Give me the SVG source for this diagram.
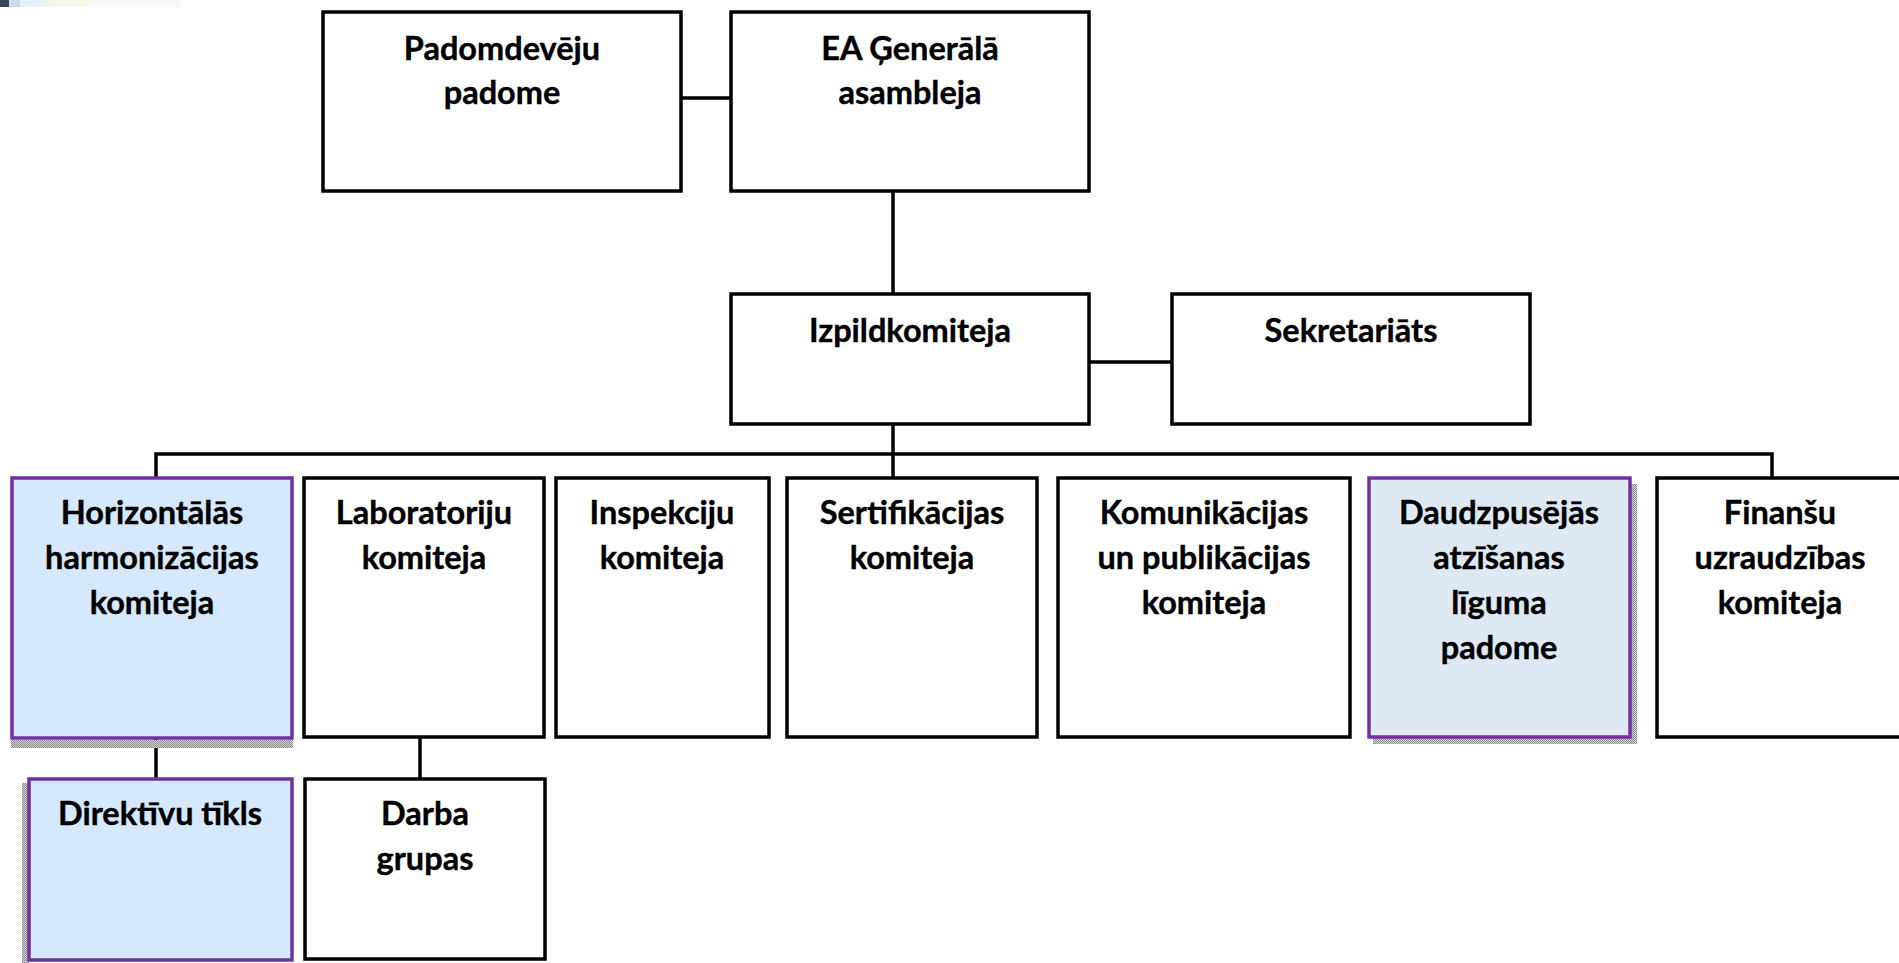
<svg xmlns="http://www.w3.org/2000/svg" width="1899" height="963" viewBox="0 0 1899 963">
<style>
.box{fill:#ffffff;stroke:#000000;stroke-width:3.5}
.hl{fill:#D5E8FC;stroke:#7030A0;stroke-width:3.5}
.hl2{fill:#DEE9F4;stroke:#7030A0;stroke-width:3.5}
.t{font-family:Lato,"Open Sans","Liberation Sans",sans-serif;font-weight:bold;font-size:32.5px;fill:#000000;text-anchor:middle;stroke:#000000;stroke-width:0.4}
.c{stroke:#000000;stroke-width:3.5;fill:none}
.sh{fill:url(#dots)}
</style>
<defs>
<pattern id="dots" width="2" height="2" patternUnits="userSpaceOnUse">
<rect width="2" height="2" fill="#d4d4d4"/>
<rect width="1" height="1" fill="#8a8a8a"/>
<rect x="1" y="1" width="1" height="1" fill="#8a8a8a"/>
</pattern>
</defs>
<g id="corner">
<rect x="0" y="0" width="9" height="7" fill="#34455e"/>
<rect x="9" y="0" width="11" height="7" fill="#c9dbe9"/>
<rect x="20" y="0" width="23" height="7" fill="#e3f1fb"/>
<rect x="43" y="0" width="12" height="7" fill="#eef6f0"/>
<rect x="55" y="0" width="35" height="7" fill="#f6f8ea"/>
<rect x="90" y="0" width="90" height="7" fill="#fcf7f8"/>
</g>
<g id="connectors">
<line class="c" x1="681" y1="98" x2="731" y2="98"/>
<line class="c" x1="893" y1="191" x2="893" y2="294"/>
<line class="c" x1="1089" y1="362" x2="1172" y2="362"/>
<line class="c" x1="893" y1="424" x2="893" y2="478"/>
<polyline class="c" points="156,478 156,454 1772,454 1772,478"/>
<line class="c" x1="156" y1="738" x2="156" y2="779"/>
<line class="c" x1="420" y1="737" x2="420" y2="779"/>
</g>
<g id="n-padomdeveju">
<rect class="box" x="323" y="12" width="358" height="179"/>
<text class="t" x="502" y="60">Padomdevēju</text>
<text class="t" x="502" y="104">padome</text>
</g>
<g id="n-ea">
<rect class="box" x="731" y="12" width="358" height="179"/>
<text class="t" x="910" y="60">EA Ģenerālā</text>
<text class="t" x="910" y="104">asambleja</text>
</g>
<g id="n-izpild">
<rect class="box" x="731" y="294" width="358" height="130"/>
<text class="t" x="910" y="342">Izpildkomiteja</text>
</g>
<g id="n-sekr">
<rect class="box" x="1172" y="294" width="358" height="130"/>
<text class="t" x="1351" y="342">Sekretariāts</text>
</g>
<g id="n-horiz">
<rect class="sh" x="11" y="740" width="282" height="8"/>
<rect class="hl" x="12" y="478" width="280" height="260"/>
<text class="t" x="152" y="524">Horizontālās</text>
<text class="t" x="152" y="569">harmonizācijas</text>
<text class="t" x="152" y="614">komiteja</text>
</g>
<g id="n-lab">
<rect class="box" x="304" y="478" width="240" height="259"/>
<text class="t" x="424" y="524">Laboratoriju</text>
<text class="t" x="424" y="569">komiteja</text>
</g>
<g id="n-insp">
<rect class="box" x="556" y="478" width="213" height="259"/>
<text class="t" x="662" y="524">Inspekciju</text>
<text class="t" x="662" y="569">komiteja</text>
</g>
<g id="n-sert">
<rect class="box" x="787" y="478" width="250" height="259"/>
<text class="t" x="912" y="524">Sertifikācijas</text>
<text class="t" x="912" y="569">komiteja</text>
</g>
<g id="n-kom">
<rect class="box" x="1058" y="478" width="292" height="259"/>
<text class="t" x="1204" y="524">Komunikācijas</text>
<text class="t" x="1204" y="569">un publikācijas</text>
<text class="t" x="1204" y="614">komiteja</text>
</g>
<g id="n-daudz">
<rect class="sh" x="1630" y="484" width="7" height="260"/>
<rect class="sh" x="1373" y="738" width="264" height="6"/>
<rect class="hl2" x="1369" y="478" width="261" height="259"/>
<text class="t" x="1499" y="524">Daudzpusējās</text>
<text class="t" x="1499" y="569">atzīšanas</text>
<text class="t" x="1499" y="614">līguma</text>
<text class="t" x="1499" y="659">padome</text>
</g>
<g id="n-fin">
<rect class="box" x="1657" y="478" width="260" height="259"/>
<text class="t" x="1780" y="524">Finanšu</text>
<text class="t" x="1780" y="569">uzraudzības</text>
<text class="t" x="1780" y="614">komiteja</text>
</g>
<g id="n-direkt">
<rect class="sh" x="22" y="783" width="7" height="180"/>
<rect class="hl" x="29" y="779" width="263" height="181"/>
<text class="t" x="160" y="825">Direktīvu tīkls</text>
</g>
<g id="n-darba">
<rect class="box" x="305" y="779" width="240" height="180"/>
<text class="t" x="425" y="825">Darba</text>
<text class="t" x="425" y="870">grupas</text>
</g>
</svg>
